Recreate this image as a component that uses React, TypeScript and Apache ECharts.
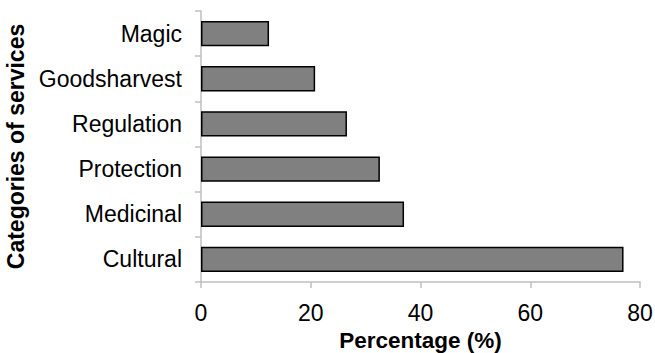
import React, { useEffect, useRef } from "react";
import * as echarts from "echarts";

const categories = ["Cultural", "Medicinal", "Protection", "Regulation", "Goodsharvest", "Magic"];
const values = [77, 37, 32.6, 26.6, 20.8, 12.4];
const xTicks = { min: 0, max: 80, interval: 20 };

export default function App() {
  const ref = useRef<HTMLDivElement>(null);
  useEffect(() => {
    if (!ref.current) return;
    const chart = echarts.init(ref.current, null, { renderer: "svg" });
    const font = "'Liberation Sans', Arial, sans-serif";
    chart.setOption({
      animation: false,
      grid: { left: 201, right: 15, top: 11, bottom: 71, containLabel: false, outerBoundsMode: "none" },
      xAxis: {
        type: "value",
        min: xTicks.min,
        max: xTicks.max,
        interval: xTicks.interval,
        name: "Percentage (%)",
        nameLocation: "middle",
        nameGap: 47,
        nameTextStyle: { fontFamily: font, fontSize: 22.5, fontWeight: "bold", color: "#000" },
        axisLine: { show: true, lineStyle: { color: "#bfbfbf", width: 1.5 } },
        axisTick: { show: true, length: 6, lineStyle: { color: "#bfbfbf", width: 1.5 } },
        splitLine: { show: false },
        axisLabel: { fontFamily: font, fontSize: 23, color: "#000", margin: 19 },
      },
      yAxis: {
        type: "category",
        data: categories,
        name: "Categories of services",
        nameLocation: "middle",
        nameGap: 156,
        nameRotate: 90,
        nameTextStyle: { fontFamily: font, fontSize: 23, fontWeight: "bold", color: "#000" },
        axisLine: { show: true, lineStyle: { color: "#bfbfbf", width: 1.5 } },
        axisTick: { show: true, length: 6, lineStyle: { color: "#bfbfbf", width: 1.5 } },
        axisLabel: { fontFamily: font, fontSize: 23, color: "#000", margin: 19 },
      },
      series: [
        {
          type: "bar",
          data: values,
          barCategoryGap: "44%",
          itemStyle: { color: "#808080", borderColor: "#000", borderWidth: 1.5 },
        },
      ],
    });
    return () => chart.dispose();
  }, []);
  return <div ref={ref} style={{ width: 655, height: 353, position: "absolute", left: 0, top: 0 }} />;
}
